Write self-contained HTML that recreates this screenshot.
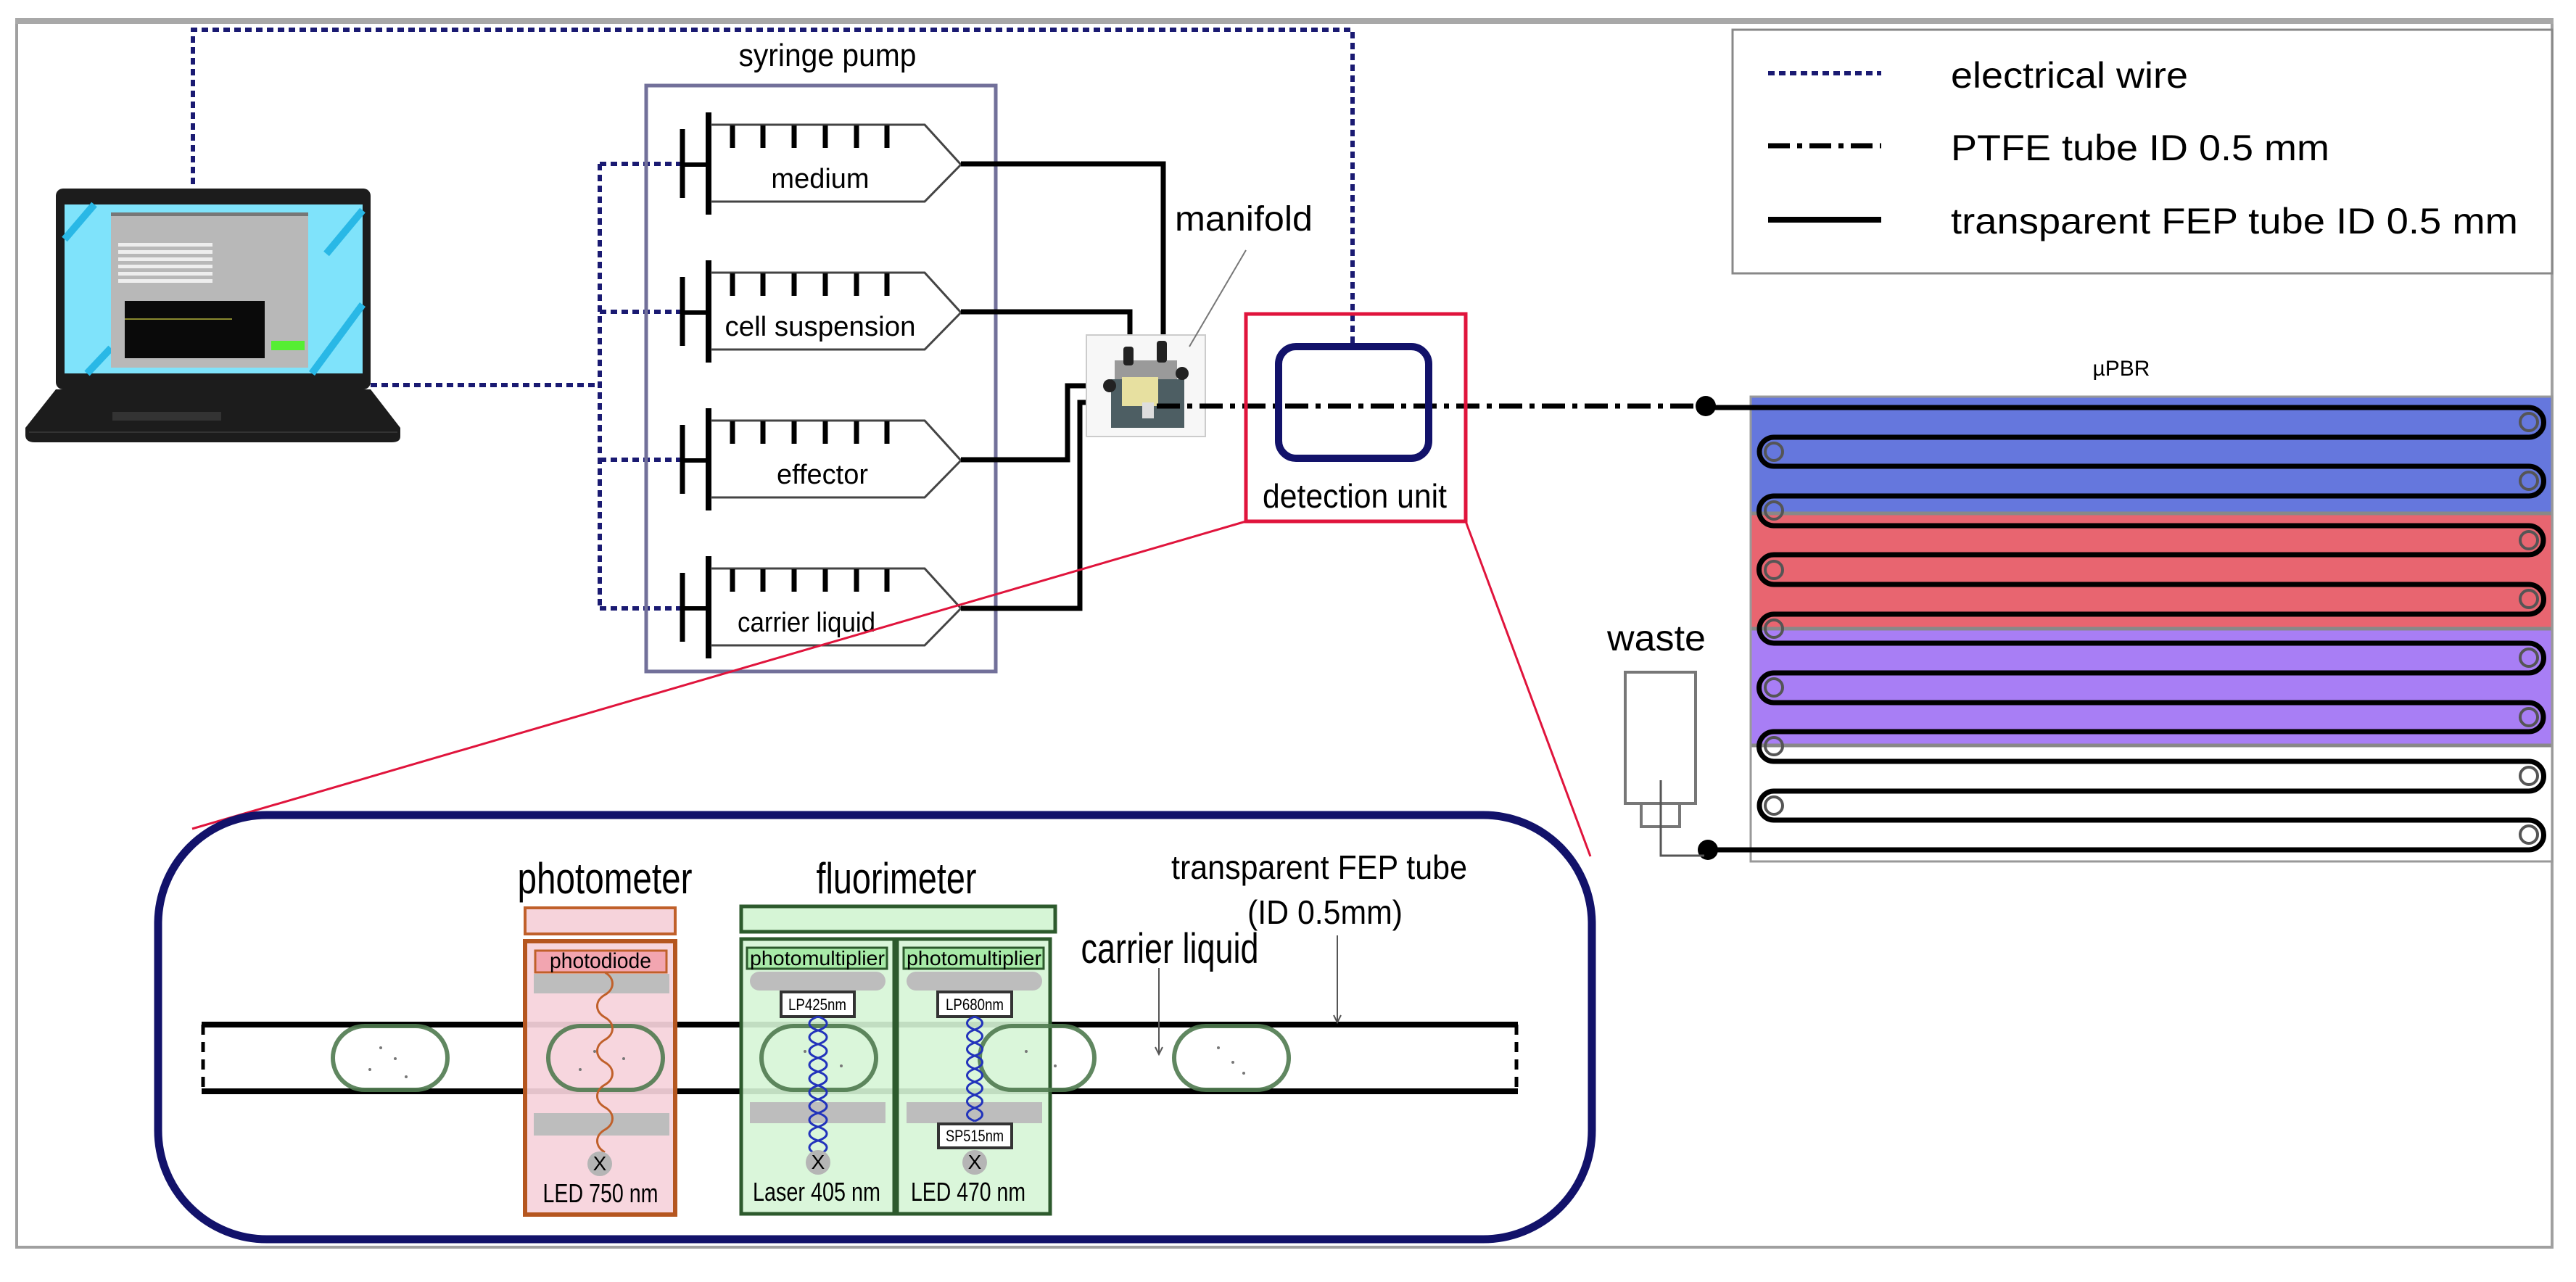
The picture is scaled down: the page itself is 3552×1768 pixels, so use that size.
<!DOCTYPE html>
<html><head><meta charset="utf-8"><style>html,body{margin:0;padding:0;background:#fff}svg{display:block}</style></head><body>
<svg width="3552" height="1768" viewBox="0 0 3552 1768" xmlns="http://www.w3.org/2000/svg" font-family="Liberation Sans, Arial, sans-serif">
<rect width="3552" height="1768" fill="#fff"/>
<!-- outer frame -->
<rect x="23" y="30" width="3496" height="1690" fill="none" stroke="#a0a0a0" stroke-width="4"/>
<line x1="21" y1="29" x2="3521" y2="29" stroke="#a8a8a8" stroke-width="8"/>

<!-- electrical wires -->
<g fill="none" stroke="#1a1a72" stroke-width="6" stroke-dasharray="9 6">
<path d="M266 254 V41 H1865 V474"/>
<path d="M511 531 H827"/>
<path d="M827 226 V839"/>
<path d="M827 226 H941 M827 430 H941 M827 634 H941 M827 839 H941"/>
</g>

<!-- laptop -->
<rect x="77" y="260" width="434" height="277" rx="10" fill="#1c1c1c"/>
<rect x="89" y="282" width="411" height="233" fill="#7fe3fb"/>
<g stroke="#29b8e6" stroke-width="10">
<line x1="89" y1="330" x2="130" y2="282"/><line x1="430" y1="515" x2="500" y2="420"/><line x1="450" y1="350" x2="500" y2="290"/><line x1="120" y1="515" x2="153" y2="480"/>
</g>
<rect x="153" y="293" width="272" height="214" fill="#b8b8b8"/>
<rect x="153" y="293" width="272" height="5" fill="#777"/>
<g fill="#eee"><rect x="163" y="335" width="130" height="5"/><rect x="163" y="345" width="130" height="5"/><rect x="163" y="355" width="130" height="5"/><rect x="163" y="365" width="130" height="5"/><rect x="163" y="375" width="130" height="5"/><rect x="163" y="385" width="130" height="5"/></g>
<rect x="172" y="415" width="193" height="79" fill="#0a0a0a"/>
<line x1="172" y1="440" x2="320" y2="440" stroke="#8a8a30" stroke-width="2"/>
<rect x="374" y="470" width="46" height="13" fill="#55ee33"/>
<path d="M77 537 H511 L552 590 V602 Q552 610 540 610 H48 Q35 610 35 600 V590 Z" fill="#1c1c1c"/>
<rect x="155" y="568" width="150" height="12" fill="#333"/>
<line x1="40" y1="596" x2="548" y2="596" stroke="#333" stroke-width="2"/>

<!-- syringe pump -->
<text x="1141" y="91" font-size="44" text-anchor="middle" textLength="245" lengthAdjust="spacingAndGlyphs">syringe pump</text>
<rect x="891" y="118" width="482" height="808" fill="none" stroke="#72709a" stroke-width="5"/>

<g id="syr">
<line x1="941" y1="178" x2="941" y2="273" stroke="#000" stroke-width="7"/>
<line x1="941" y1="227" x2="977" y2="227" stroke="#000" stroke-width="6"/>
<line x1="977" y1="155" x2="977" y2="296" stroke="#000" stroke-width="8"/>
<path d="M980 172 H1275 L1325 227 L1275 278 H980" fill="none" stroke="#444" stroke-width="3"/>
<g stroke="#000" stroke-width="7"><line x1="1010" y1="173" x2="1010" y2="204"/><line x1="1052" y1="173" x2="1052" y2="204"/><line x1="1095" y1="173" x2="1095" y2="204"/><line x1="1138" y1="173" x2="1138" y2="204"/><line x1="1181" y1="173" x2="1181" y2="204"/><line x1="1223" y1="173" x2="1223" y2="204"/></g>
</g>
<use href="#syr" transform="translate(0,204)"/>
<use href="#syr" transform="translate(0,408)"/>
<use href="#syr" transform="translate(0,612)"/>
<g font-size="38" text-anchor="middle">
<text x="1131" y="259">medium</text>
<text x="1131" y="463" textLength="263" lengthAdjust="spacingAndGlyphs">cell suspension</text>
<text x="1134" y="667">effector</text>
<text x="1112" y="871" textLength="190" lengthAdjust="spacingAndGlyphs">carrier liquid</text>
</g>

<!-- FEP tubes to manifold -->
<g fill="none" stroke="#000" stroke-width="7">
<path d="M1325 226 H1604 V482"/>
<path d="M1325 430 H1558 V482"/>
<path d="M1325 634 H1472 V532 H1533"/>
<path d="M1325 839 H1489 V555 H1533"/>
</g>

<!-- manifold -->
<rect x="1498" y="462" width="164" height="140" fill="#f7f7f7" stroke="#ccc" stroke-width="2"/>
<rect x="1537" y="497" width="86" height="28" fill="#9a9a9a"/>
<rect x="1532" y="523" width="101" height="67" fill="#4d5e63"/>
<rect x="1547" y="520" width="50" height="40" fill="#e7e0a0"/>
<rect x="1575" y="555" width="16" height="22" fill="#ddd"/>
<g fill="#222"><rect x="1549" y="478" width="14" height="26" rx="4"/><rect x="1595" y="470" width="14" height="30" rx="4"/><circle cx="1630" cy="515" r="9"/><circle cx="1530" cy="532" r="9"/></g>
<text x="1715" y="318" font-size="48" text-anchor="middle" textLength="190" lengthAdjust="spacingAndGlyphs">manifold</text>
<line x1="1718" y1="345" x2="1640" y2="478" stroke="#777" stroke-width="2"/>

<!-- PTFE dash-dot -->
<line x1="1595" y1="560" x2="2352" y2="560" stroke="#000" stroke-width="7" stroke-dasharray="32 10 7 10"/>
<circle cx="2352" cy="560" r="14" fill="#000"/>

<!-- detection unit -->
<rect x="1718" y="433" width="303" height="286" fill="none" stroke="#e0143c" stroke-width="5"/>
<rect x="1763" y="478" width="207" height="154" rx="24" fill="none" stroke="#12126a" stroke-width="10"/>
<text x="1868" y="700" font-size="46" text-anchor="middle" textLength="254" lengthAdjust="spacingAndGlyphs">detection unit</text>

<!-- red zoom lines -->
<line x1="1718" y1="719" x2="265" y2="1143" stroke="#e0143c" stroke-width="3"/>
<line x1="2021" y1="719" x2="2193" y2="1181" stroke="#e0143c" stroke-width="3"/>

<!-- legend -->
<rect x="2389" y="41" width="1130" height="336" fill="#fff" stroke="#888" stroke-width="3"/>
<line x1="2438" y1="101" x2="2594" y2="101" stroke="#1a1a72" stroke-width="6" stroke-dasharray="9 6"/>
<line x1="2438" y1="201" x2="2594" y2="201" stroke="#000" stroke-width="7" stroke-dasharray="30 10 7 10"/>
<line x1="2438" y1="303" x2="2594" y2="303" stroke="#000" stroke-width="8"/>
<g font-size="50">
<text x="2690" y="121" textLength="327" lengthAdjust="spacingAndGlyphs">electrical wire</text>
<text x="2690" y="221" textLength="522" lengthAdjust="spacingAndGlyphs">PTFE tube ID 0.5 mm</text>
<text x="2690" y="322" textLength="782" lengthAdjust="spacingAndGlyphs">transparent FEP tube ID 0.5 mm</text>
</g>

<!-- uPBR -->
<text x="2925" y="518" font-size="30" text-anchor="middle">µPBR</text>
<rect x="2414" y="547" width="1105" height="641" fill="#fff" stroke="#999" stroke-width="3"/>
<rect x="2414" y="547" width="1105" height="161" fill="#6577dd"/>
<rect x="2414" y="708" width="1105" height="159" fill="#e86570"/>
<rect x="2414" y="867" width="1105" height="161" fill="#a87ef5"/>
<g stroke="#888" stroke-width="5"><line x1="2414" y1="708" x2="3519" y2="708"/><line x1="2414" y1="867" x2="3519" y2="867"/><line x1="2414" y1="1028" x2="3519" y2="1028"/></g>
<rect x="2414" y="547" width="1105" height="641" fill="none" stroke="#999" stroke-width="3"/>
<path d="M2352 562 H3487 A20 20 0 0 1 3487 603 H2446 A20 20 0 0 0 2446 643 H3487 A20 20 0 0 1 3487 684 H2446 A20 20 0 0 0 2446 725 H3487 A20 20 0 0 1 3487 765 H2446 A20 20 0 0 0 2446 806 H3487 A20 20 0 0 1 3487 847 H2446 A20 20 0 0 0 2446 887 H3487 A20 20 0 0 1 3487 928 H2446 A20 20 0 0 0 2446 969 H3487 A20 20 0 0 1 3487 1009 H2446 A20 20 0 0 0 2446 1050 H3487 A20 20 0 0 1 3487 1091 H2446 A20 20 0 0 0 2446 1131 H3487 A20 20 0 0 1 3487 1172 H2355" fill="none" stroke="#000" stroke-width="7"/>
<g fill="none" stroke="#555" stroke-width="4">
<circle cx="3487" cy="582" r="12"/><circle cx="3487" cy="663" r="12"/><circle cx="3487" cy="745" r="12"/><circle cx="3487" cy="826" r="12"/><circle cx="3487" cy="907" r="12"/><circle cx="3487" cy="989" r="12"/><circle cx="3487" cy="1070" r="12"/><circle cx="3487" cy="1151" r="12"/>
<circle cx="2446" cy="623" r="12"/><circle cx="2446" cy="704" r="12"/><circle cx="2446" cy="786" r="12"/><circle cx="2446" cy="867" r="12"/><circle cx="2446" cy="948" r="12"/><circle cx="2446" cy="1029" r="12"/><circle cx="2446" cy="1111" r="12"/>
</g>
<circle cx="2355" cy="1172" r="14" fill="#000"/>

<!-- waste -->
<text x="2284" y="897" font-size="50" text-anchor="middle" textLength="136" lengthAdjust="spacingAndGlyphs">waste</text>
<rect x="2241" y="927" width="97" height="181" fill="#fff" stroke="#777" stroke-width="4"/>
<rect x="2263" y="1108" width="53" height="32" fill="#fff" stroke="#777" stroke-width="4"/>
<path d="M2290 1076 V1180 H2350" fill="none" stroke="#555" stroke-width="3"/>

<!-- detail box -->
<rect x="218" y="1124" width="1977" height="585" rx="150" fill="#fff" stroke="#12126a" stroke-width="11"/>

<!-- tube -->
<line x1="278" y1="1413" x2="2093" y2="1413" stroke="#000" stroke-width="8"/>
<line x1="278" y1="1505" x2="2093" y2="1505" stroke="#000" stroke-width="8"/>
<g stroke="#000" stroke-width="5" stroke-dasharray="14 10"><line x1="280" y1="1413" x2="280" y2="1505"/><line x1="2091" y1="1413" x2="2091" y2="1505"/></g>

<!-- photometer -->
<text x="834" y="1232" font-size="60" text-anchor="middle" textLength="241" lengthAdjust="spacingAndGlyphs">photometer</text>
<rect x="724" y="1252" width="207" height="36" fill="#f6d3db" stroke="#c0602a" stroke-width="4"/>
<rect x="724" y="1298" width="207" height="377" fill="#f6d3db" fill-opacity="0.92" stroke="#b5561f" stroke-width="6"/>
<rect x="738" y="1311" width="181" height="30" fill="#f2a5b0" stroke="#c0602a" stroke-width="3"/>
<text x="828" y="1335" font-size="30" text-anchor="middle" textLength="140" lengthAdjust="spacingAndGlyphs">photodiode</text>
<rect x="736" y="1343" width="187" height="27" fill="#bdbdbd"/>
<rect x="736" y="1535" width="187" height="31" fill="#bdbdbd"/>

<!-- fluorimeter -->
<text x="1236" y="1232" font-size="60" text-anchor="middle" textLength="221" lengthAdjust="spacingAndGlyphs">fluorimeter</text>
<rect x="1022" y="1250" width="433" height="35" fill="#d6f5d6" stroke="#2d5a2d" stroke-width="5"/>
<rect x="1022" y="1295" width="211" height="379" fill="#d6f5d6" fill-opacity="0.9" stroke="#2d5a2d" stroke-width="5"/>
<rect x="1237" y="1295" width="211" height="379" fill="#d6f5d6" fill-opacity="0.9" stroke="#2d5a2d" stroke-width="5"/>
<rect x="1030" y="1307" width="193" height="29" fill="#a8eaa8" stroke="#2d5a2d" stroke-width="3"/>
<rect x="1246" y="1307" width="193" height="29" fill="#a8eaa8" stroke="#2d5a2d" stroke-width="3"/>
<g font-size="28" text-anchor="middle"><text x="1127" y="1331" textLength="186" lengthAdjust="spacingAndGlyphs">photomultiplier</text><text x="1343" y="1331" textLength="186" lengthAdjust="spacingAndGlyphs">photomultiplier</text></g>
<rect x="1034" y="1340" width="187" height="26" rx="13" fill="#bdbdbd"/>
<rect x="1250" y="1340" width="187" height="26" rx="13" fill="#bdbdbd"/>
<rect x="1034" y="1520" width="187" height="29" fill="#bdbdbd"/>
<rect x="1250" y="1520" width="187" height="29" fill="#bdbdbd"/>

<!-- droplets -->
<g fill="none" stroke="#4f7a4f" stroke-width="6" stroke-opacity="0.9">
<rect x="459" y="1415" width="158" height="88" rx="44"/>
<rect x="756" y="1415" width="158" height="88" rx="44"/>
<rect x="1050" y="1415" width="158" height="88" rx="44"/>
<rect x="1351" y="1415" width="158" height="88" rx="44"/>
<rect x="1619" y="1415" width="158" height="88" rx="44"/>
</g>
<g fill="#777"><circle cx="525" cy="1445" r="2"/><circle cx="545" cy="1460" r="2"/><circle cx="510" cy="1475" r="2"/><circle cx="560" cy="1485" r="2"/><circle cx="820" cy="1450" r="2"/><circle cx="860" cy="1460" r="2"/><circle cx="800" cy="1475" r="2"/><circle cx="1110" cy="1450" r="2"/><circle cx="1160" cy="1470" r="2"/><circle cx="1415" cy="1450" r="2"/><circle cx="1455" cy="1470" r="2"/><circle cx="1680" cy="1445" r="2"/><circle cx="1700" cy="1465" r="2"/><circle cx="1715" cy="1480" r="2"/></g>

<!-- filters -->
<rect x="1077" y="1368" width="101" height="34" fill="#fff" stroke="#333" stroke-width="4"/>
<rect x="1293" y="1368" width="102" height="34" fill="#fff" stroke="#333" stroke-width="4"/>
<rect x="1294" y="1550" width="101" height="33" fill="#fff" stroke="#333" stroke-width="4"/>
<g font-size="22" text-anchor="middle"><text x="1127" y="1393" textLength="80" lengthAdjust="spacingAndGlyphs">LP425nm</text><text x="1344" y="1393" textLength="80" lengthAdjust="spacingAndGlyphs">LP680nm</text><text x="1344" y="1574" textLength="80" lengthAdjust="spacingAndGlyphs">SP515nm</text></g>

<!-- waves -->
<path d="M834 1341 c14 8 14 23 0 31 c-14 8 -14 23 0 31 c14 8 14 23 0 31 c-14 8 -14 23 0 31 c14 8 14 23 0 31 c-14 8 -14 23 0 31 c14 8 14 23 0 31 c-14 8 -14 23 0 31" fill="none" stroke="#c0602a" stroke-width="3"/>
<g fill="none" stroke="#2233bb" stroke-width="3">
<path d="M1128 1402 c16 5 16 14 0 19 c-16 5 -16 14 0 19 c16 5 16 14 0 19 c-16 5 -16 14 0 19 c16 5 16 14 0 19 c-16 5 -16 14 0 19 c16 5 16 14 0 19 c-16 5 -16 14 0 19 c16 5 16 14 0 19 c-16 5 -16 14 0 19"/>
<path d="M1128 1402 c-16 5 -16 14 0 19 c16 5 16 14 0 19 c-16 5 -16 14 0 19 c16 5 16 14 0 19 c-16 5 -16 14 0 19 c16 5 16 14 0 19 c-16 5 -16 14 0 19 c16 5 16 14 0 19 c-16 5 -16 14 0 19 c16 5 16 14 0 19"/>
<path d="M1344 1402 c14 5 14 13 0 18 c-14 5 -14 13 0 18 c14 5 14 13 0 18 c-14 5 -14 13 0 18 c14 5 14 13 0 18 c-14 5 -14 13 0 18 c14 5 14 13 0 18 c-14 5 -14 13 0 18"/>
<path d="M1344 1402 c-14 5 -14 13 0 18 c14 5 14 13 0 18 c-14 5 -14 13 0 18 c14 5 14 13 0 18 c-14 5 -14 13 0 18 c14 5 14 13 0 18 c-14 5 -14 13 0 18 c14 5 14 13 0 18"/>
</g>

<!-- light sources -->
<g fill="#b5b5b5"><circle cx="827" cy="1605" r="17"/><circle cx="1128" cy="1603" r="17"/><circle cx="1344" cy="1603" r="17"/></g>
<g font-size="28" text-anchor="middle"><text x="827" y="1614">X</text><text x="1128" y="1612">X</text><text x="1344" y="1612">X</text></g>
<g font-size="36" text-anchor="middle">
<text x="828" y="1658" textLength="159" lengthAdjust="spacingAndGlyphs">LED 750 nm</text>
<text x="1126" y="1656" textLength="176" lengthAdjust="spacingAndGlyphs">Laser 405 nm</text>
<text x="1335" y="1656" textLength="158" lengthAdjust="spacingAndGlyphs">LED 470 nm</text>
</g>

<!-- annotations -->
<text x="1613" y="1328" font-size="58" text-anchor="middle" textLength="245" lengthAdjust="spacingAndGlyphs">carrier liquid</text>
<line x1="1598" y1="1335" x2="1598" y2="1452" stroke="#555" stroke-width="2"/>
<path d="M1593 1444 L1598 1454 L1603 1444" fill="none" stroke="#555" stroke-width="2"/>
<text x="1819" y="1212" font-size="46" text-anchor="middle" textLength="408" lengthAdjust="spacingAndGlyphs">transparent FEP tube</text>
<text x="1827" y="1274" font-size="46" text-anchor="middle" textLength="214" lengthAdjust="spacingAndGlyphs">(ID 0.5mm)</text>
<line x1="1844" y1="1290" x2="1844" y2="1408" stroke="#555" stroke-width="2"/>
<path d="M1839 1400 L1844 1410 L1849 1400" fill="none" stroke="#555" stroke-width="2"/>
</svg>
</body></html>
